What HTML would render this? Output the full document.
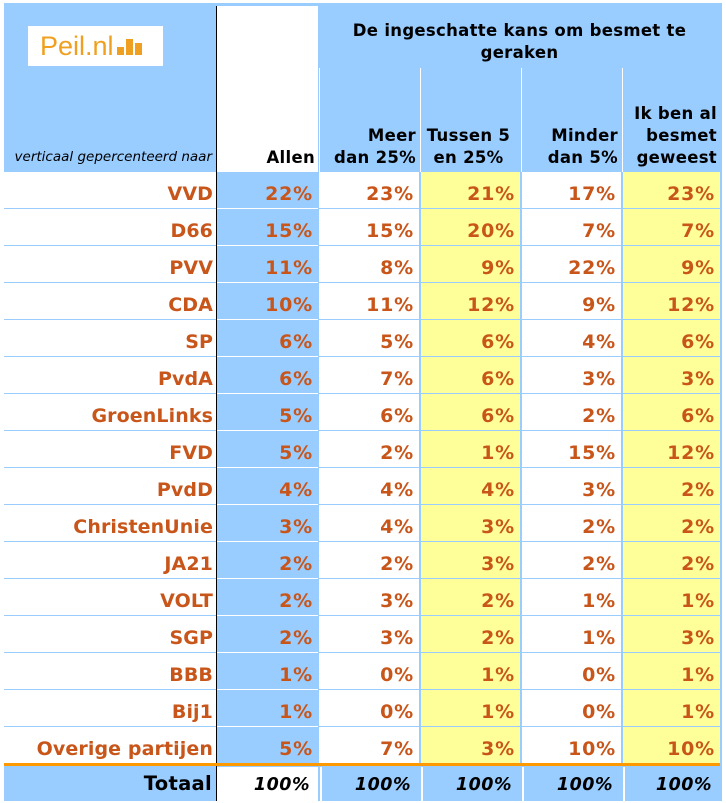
<!DOCTYPE html>
<html><head><meta charset="utf-8"><style>
body{margin:0;width:726px;height:801px;background:#fff;position:relative;overflow:hidden;font-family:"DejaVu Sans","Liberation Sans",sans-serif}
div.c{position:absolute;box-sizing:border-box}
.hdr{font-weight:bold;font-size:16.5px;color:#000;line-height:22px;letter-spacing:0.3px}
.val{font-weight:bold;font-size:19px;color:#c8561a;text-align:right;padding-right:5px;line-height:44px;letter-spacing:0.8px}
.lbl{letter-spacing:0.1px}
</style></head><body>
<div class="c" style="left:4px;top:3px;width:718px;height:798px;background:#99ccff"></div>
<div class="c" style="left:28px;top:26px;width:135px;height:40px;background:#fff;color:#f0a020;font-family:'Liberation Sans',sans-serif;font-size:27px;line-height:40px;padding-left:12px">Peil.nl<span style="display:inline-block;width:7px;height:8px;background:#f0a020;margin-left:3px"></span><span style="display:inline-block;width:7px;height:16px;background:#f0a020;margin-left:2px"></span><span style="display:inline-block;width:7px;height:12px;background:#f0a020;margin-left:2px"></span></div>
<div class="c" style="left:217px;top:6px;width:101px;height:166px;background:#fff"></div>
<div class="c" style="left:216px;top:6px;width:1px;height:795px;background:#000"></div>
<div class="c hdr" style="left:319px;top:20px;width:401px;text-align:center">De ingeschatte kans om besmet te<br>geraken</div>
<div class="c" style="left:4px;top:149px;width:208px;text-align:right;font-style:italic;font-size:13.5px;color:#000">verticaal gepercenteerd naar</div>
<div id="root"></div>
<script>
const parties=["VVD","D66","PVV","CDA","SP","PvdA","GroenLinks","FVD","PvdD","ChristenUnie","JA21","VOLT","SGP","BBB","Bij1","Overige partijen"];
const colHeaders=["Allen","Meer<br>dan 25%","Tussen 5<br>en 25%","Minder<br>dan 5%","Ik ben al<br>besmet<br>geweest"];
const allen=[22,15,11,10,6,6,5,5,4,3,2,2,2,1,1,5];
const meer25=[23,15,8,11,5,7,6,2,4,4,2,3,3,0,0,7];
const tussen=[21,20,9,12,6,6,6,1,4,3,3,2,2,1,1,3];
const minder5=[17,7,22,9,4,3,2,15,3,2,2,1,1,0,0,10];
const besmet=[23,7,9,12,6,3,6,12,2,2,2,1,3,1,1,10];
const totals=["100%","100%","100%","100%","100%"];
const series=[allen,meer25,tussen,minder5,besmet];
const colX=[217,319,420,521,622], colW=[101,100,100,100,98];
const bgs=["#99ccff","#fff","#ffff99","#fff","#ffff99"];
const top0=172,rowH=37;
const root=document.getElementById('root');
function mk(s,html){const d=document.createElement('div');d.className='c '+(s.cls||'');d.style.cssText=s.css;if(html!==undefined)d.innerHTML=html;root.appendChild(d);return d;}
colHeaders.forEach((h,i)=>{
  if(i>0){const bg=mk({css:`left:${colX[i]}px;top:68px;width:${colW[i]-1}px;height:104px;background:#99ccff;border-left:1px solid #fff`});
  
  }
  const d=mk({cls:'hdr',css:`left:${colX[i]}px;top:${i==4?103:(i==0?147:125)}px;width:${colW[i]}px;text-align:${i==2?'center':'right'};padding-right:3px`},h);
  
  
});
parties.forEach((p,r)=>{
  const y=top0+r*rowH;
  const lb=mk({css:`left:4px;top:${y}px;width:212px;height:${rowH}px;background:#fff;border-bottom:1px solid #99ccff`});
  
  
  const l=mk({cls:'val lbl',css:`left:4px;top:${y}px;width:212px;padding-right:3px`},p);
  
  
  series.forEach((s,i)=>{
    const c=mk({cls:'val',css:`left:${colX[i]}px;top:${y}px;width:${colW[i]}px;height:${rowH}px;background:${bgs[i]};border-bottom:1px solid ${i==0?'#fff':'#99ccff'};border-left:${i>1?'1px solid #99ccff':'0'}`},s[r]+'%');
    
    
  });
});
const ol=mk({css:`left:4px;top:${top0+16*rowH-1}px;width:716px;height:3px;background:#ff9900`});


const tl=mk({cls:'hdr',css:`left:4px;top:773px;width:208px;text-align:right;font-size:19.5px`},'Totaal');


totals.forEach((t,i)=>{
  const c=mk({css:`left:${colX[i]+(i>0?1:0)}px;top:767px;width:${colW[i]-(i>0?1:0)}px;height:34px;background:${i==0?'#fff':'#99ccff'};border-left:${i>0?'2px solid #fff':'0'};font-weight:bold;font-style:italic;font-size:17.5px;letter-spacing:0.5px;text-align:right;padding-right:8px;line-height:36px;color:#000`},t);
  
  
});
</script>
</body></html>
